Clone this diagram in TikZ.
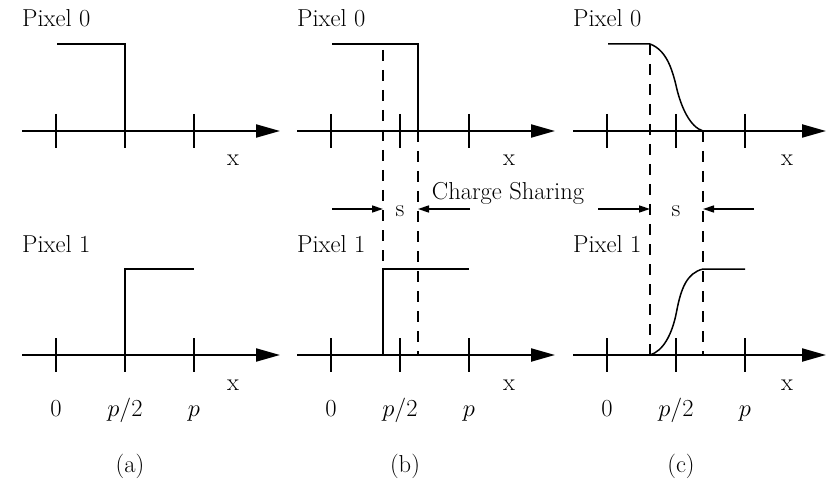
\RequirePackage{fix-cm}
\documentclass[tikz,border=0pt]{standalone}
\usetikzlibrary{arrows.meta}
\tikzset{
  axisline/.style={line width=2.2pt,-{Triangle[length=24pt,width=13pt]}},
  tickline/.style={line width=1.8pt},
  signal/.style={line width=1.5pt},
  dashline/.style={line width=1.8pt,dash pattern=on 11pt off 9pt},
  sarrow/.style={line width=1.5pt,-{Triangle[length=11pt,width=7pt]}},
  lbl/.style={inner sep=0pt,font=\fontsize{24.5}{29}\selectfont},
}
\begin{document}
\begin{tikzpicture}[x=1pt,y=-1pt]
\useasboundingbox (0,0) rectangle (827,489);
% axes, ticks and labels of the three panels
\foreach \p/\dx/\xe/\lx in {a/0/280/233,b/275/555/509,c/551/826/787}{
  \foreach \row/\yy in {top/131,bot/355}{
    \coordinate (\p\row s) at (22+\dx,\yy);
    \coordinate (\p\row e) at (\xe,\yy);
    \draw[axisline] (\p\row s) -- (\p\row e);
    \foreach \t/\tx in {0/56,1/125,2/194}{
      \coordinate (\p\row t\t u) at (\tx+\dx,\yy-17);
      \coordinate (\p\row t\t d) at (\tx+\dx,\yy+17);
      \draw[tickline] (\p\row t\t u) -- (\p\row t\t d);
    }
    \node[lbl,anchor=base] (\p\row x) at (\lx,\yy+35) {x};
  }
  \node[lbl,anchor=base west] (\p pix0) at (22+\dx,27) {Pixel 0};
  \node[lbl,anchor=base west] (\p pix1) at (22+\dx,252) {Pixel 1};
  \node[lbl,anchor=base] (\p l0) at (56+\dx,416) {0};
  \node[lbl,anchor=base] (\p l1) at (125+\dx,416) {$p/2$};
  \node[lbl,anchor=base] (\p l2) at (194+\dx,416) {$p$};
  \node[lbl] (\p cap) at (130+\dx,466) {(\p)};
}
% panel (a)
\coordinate (a0s) at (57,44);
\coordinate (a0c) at (125,44);
\coordinate (a0e) at (125,131);
\draw[signal] (a0s) -- (a0c) -- (a0e);
\coordinate (a1s) at (125,355);
\coordinate (a1c) at (125,269);
\coordinate (a1e) at (194,269);
\draw[signal] (a1s) -- (a1c) -- (a1e);
% panel (b)
\coordinate (b0s) at (332,44);
\coordinate (b0c) at (418,44);
\coordinate (b0e) at (418,131);
\draw[signal] (b0s) -- (b0c) -- (b0e);
\coordinate (b1s) at (383,355);
\coordinate (b1c) at (383,269);
\coordinate (b1e) at (469,269);
\draw[signal] (b1s) -- (b1c) -- (b1e);
\coordinate (bdl0) at (383,50);
\draw[dashline] (bdl0) -- (b1c);
\coordinate (bdr1) at (418,355);
\draw[dashline] (b0e) -- (bdr1);
\coordinate (bal) at (332,209);
\coordinate (bali) at (383,209);
\coordinate (bar) at (470,209);
\coordinate (bari) at (418,209);
\draw[sarrow] (bal) -- (bali);
\draw[sarrow] (bar) -- (bari);
\node[lbl,anchor=base] (bs) at (400,216) {s};
\node[lbl] (cs) at (508,193) {Charge Sharing};
% panel (c)
\coordinate (c0s) at (608,44);
\coordinate (c0c) at (650,44);
\coordinate (c0m) at (676.5,87.5);
\coordinate (c0e) at (703,131);
\draw[signal] (c0s) -- (c0c) .. controls (666,50) and (672,68) .. (c0m)
  .. controls (681,107) and (690,127) .. (c0e);
\coordinate (c1s) at (650,355);
\coordinate (c1m) at (676.5,312);
\coordinate (c1c) at (703,269);
\coordinate (c1e) at (745,269);
\draw[signal] (c1s) .. controls (663,351) and (672,335) .. (c1m)
  .. controls (681,288) and (687,273) .. (c1c) -- (c1e);
\draw[dashline] (c0c) -- (c1s);
\coordinate (cdr1) at (703,355);
\draw[dashline] (c0e) -- (cdr1);
\coordinate (cal) at (598,209);
\coordinate (cali) at (650,209);
\coordinate (car) at (754,209);
\coordinate (cari) at (703,209);
\draw[sarrow] (cal) -- (cali);
\draw[sarrow] (car) -- (cari);
\node[lbl,anchor=base] (csl) at (676,216) {s};
\end{tikzpicture}
\end{document}
